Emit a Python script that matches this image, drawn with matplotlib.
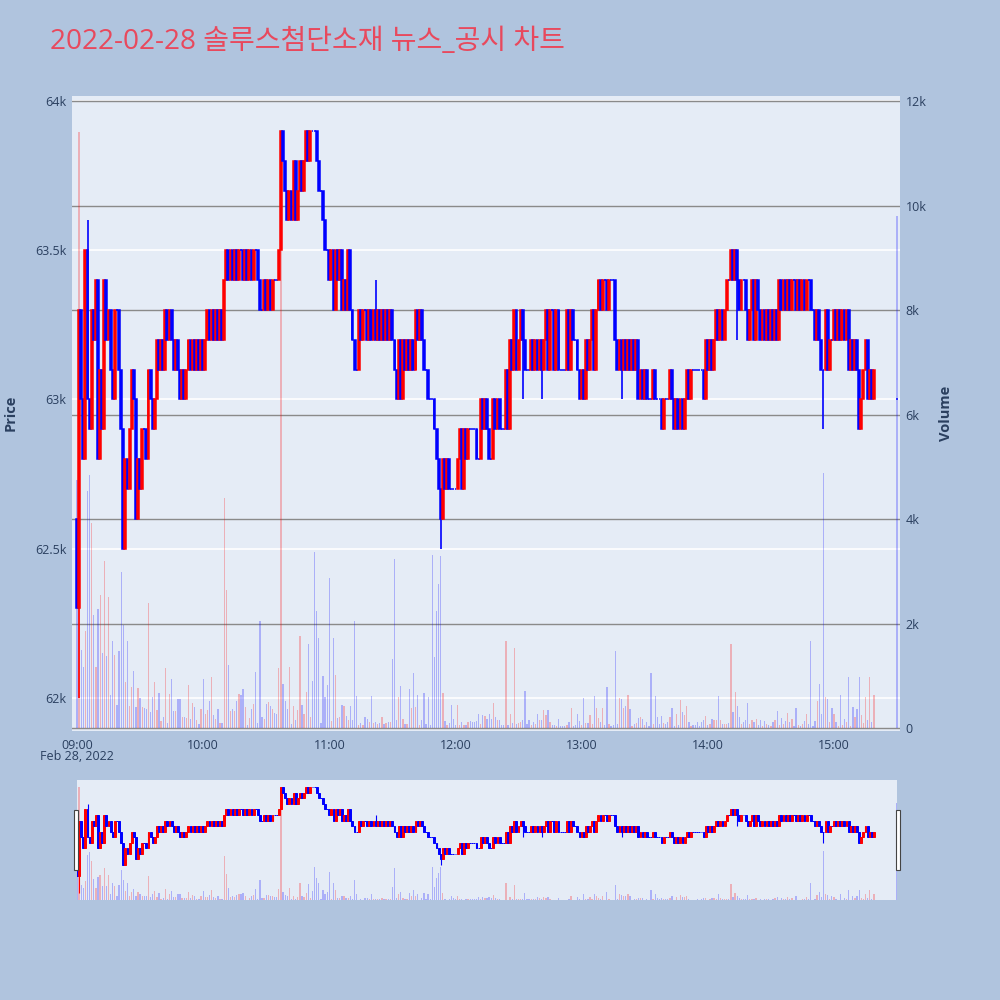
import matplotlib.pyplot as plt
from matplotlib.patches import Rectangle
from matplotlib.transforms import blended_transform_factory

plt.rcParams['font.family'] = ['Open Sans', 'Noto Sans CJK KR', 'DejaVu Sans']

title = "2022-02-28 솔루스첨단소재 뉴스_공시 차트"

# 1분봉 종가 (단위: 100원), 09:00 부터. 마지막 값은 15:30 동시호가
first_open = 626
closes = [
    623, 633, 630, 628, 635, 630, 629, 633, 632, 634,
    628, 631, 629, 634, 632, 633, 631, 630, 633, 633,
    631, 629, 625, 628, 627, 629, 631, 630, 626, 628,
    627, 629, 629, 628, 631, 630, 629, 630, 632, 631,
    632, 631, 633, 632, 633, 632, 631, 632, 631, 630,
    631, 630, 631, 632, 631, 632, 631, 632, 631, 632,
    631, 632, 633, 632, 633, 632,
    633, 632, 633, 632, 634, 635, 634, 635, 634,
    635, 634, 635, 635, 634, 635, 634, 635, 634, 635, 635,
    634, 633, 633, 634, 633, 634, 633, 634, 634, 634, 635,
    639, 638, 637, 636, 637, 636, 638, 636, 637, 638, 637, 638,
    639, 638, 639, 639, 639, 638, 637, 637, 636, 635,
    635, 634, 635, 633, 635, 634, 635, 633, 634, 633, 635,
    633, 632, 631, 631, 633, 632, 633, 633, 632, 633, 632,
    633, 632, 633, 632, 633, 632, 633, 632, 633, 632,
    631, 630, 632, 630, 632, 631, 632, 631, 632, 631,
    633, 632, 633, 632, 631, 631, 630, 630, 630, 629,
    628, 627, 626, 628, 627, 628, 627, 627, 627, 627,
    628, 629, 627, 629, 628, 629, 629, 629, 629, 628,
    628, 630, 629, 630,
    629, 628, 628, 630, 629, 630, 629, 629, 629, 631,
    629, 632, 631, 633, 631, 632, 633, 632, 631, 631,
    631, 632, 631, 632, 631, 632, 631, 632, 633, 631,
    633, 633, 631, 633, 631, 631, 631, 631, 633, 631,
    633, 632, 632, 631, 630, 631, 630, 632, 631, 632,
    633, 631, 633, 634, 633, 634, 634, 633, 634, 634,
    634, 632, 631, 632, 631, 632,
    631, 632, 631, 632, 631, 632, 630, 631, 630, 631,
    630, 630, 630, 631, 630, 630, 630, 629, 630, 630,
    630, 631, 630, 629, 630, 629, 630, 629, 630, 631,
    630, 631, 631, 631, 631, 631, 631, 630, 632, 631,
    632, 631, 632, 633, 632, 633, 632, 633, 634, 634,
    635, 634, 635, 634, 633, 634, 634, 633, 632, 633,
    634, 632, 634, 633, 632,
    633, 632, 633, 632, 633, 632, 633, 632,
    634, 633, 634, 633, 634, 633, 634, 634, 633, 634,
    633, 634, 633, 634, 634, 633, 633, 632, 633, 632,
    631, 631, 633, 631, 632, 632, 633, 632, 633, 632,
    633, 632, 633, 631, 632, 631, 632, 631, 629, 630,
    631, 632, 630, 631, 630, 631,
    630,
]
extra_low = {1: 620, 173: 625, 212: 630, 221: 630, 259: 630, 314: 632, 355: 629}
extra_high = {5: 636, 142: 634}

volumes = [
    4750, 11400, 1500, 1165, 1866, 4540, 4840, 3920, 2165, 1165,
    2280, 2550, 1430, 3190, 1375, 2500, 625, 1670, 1390, 445,
    1480, 2990, 1975, 890, 1670, 420, 780, 1095, 400, 765,
    575, 410, 380, 370, 2395, 305, 600, 880, 340, 675,
    130, 220, 1140, 95, 655, 940, 320, 330, 560, 560,
    220, 210, 200, 830, 165, 480, 395, 145, 85, 355,
    940, 260, 340, 515, 975, 255, 165, 355, 100, 100,
    4410, 2640, 1200, 325, 370, 320, 510, 655, 640, 750,
    400, 50, 200, 355, 465, 1070, 100, 2045, 210, 165,
    460, 500, 420, 370, 285, 275, 1145, 11400, 840, 510,
    355, 1170, 85, 420, 145, 340, 1760, 435, 275, 690,
    1610, 205, 905, 3360, 2235, 1720, 95, 1005, 585, 815,
    2870, 125, 1720, 1020, 190, 205, 435, 415, 230, 155,
    420, 145, 2040, 610, 50, 100, 50, 210, 180, 115,
    610, 100, 115, 80, 100, 220, 80, 100, 115, 115,
    1325, 3235, 160, 590, 795, 180, 75, 75, 740, 380,
    1050, 400, 625, 50, 160, 670, 75, 590, 65, 3320,
    1360, 2240, 2760, 3300, 670, 125, 50, 100, 435, 180,
    65, 435, 65, 115, 50, 65, 115, 125, 115, 115,
    125, 275, 85, 255, 230, 180, 275, 180, 480, 220,
    145, 145, 50, 50, 1675, 50, 260, 95, 1530, 80,
    95, 115, 145, 700, 75, 145, 60, 115, 85, 275,
    160, 145, 350, 240, 350, 115, 50, 50, 30, 165,
    30, 30, 30, 50, 115, 380, 30, 50, 260, 135,
    50, 575, 100, 100, 255, 85, 610, 380, 190, 115,
    380, 50, 780, 85, 40, 50, 1465, 85, 575, 550,
    380, 420, 640, 370, 40, 85, 95, 190, 210, 180,
    50, 115, 30, 1050, 85, 605, 210, 85, 230, 100,
    70, 115, 205, 380, 30, 270, 50, 530, 305, 255,
    415, 115, 30, 50, 50, 115, 30, 115, 155, 230,
    50, 85, 180, 155, 145, 605, 160, 85, 85, 85,
    95, 1610, 305, 690, 415, 210, 85, 115, 145, 480,
    85, 145, 115, 165, 50, 145, 30, 125, 85, 65,
    30, 115, 155, 325, 50, 190, 85, 140, 295, 115,
    180, 30, 380, 50, 30, 85, 125, 275, 85, 1670,
    30, 125, 510, 840, 270, 4890, 600, 550, 115, 380,
    260, 115, 30, 640, 50, 180, 115, 980, 30, 400,
    220, 370, 980, 240, 95, 585, 160, 975, 115, 640,
    9800,
]
auction_minute = 390  # 15:30

time_ticks = [0, 60, 120, 180, 240, 300, 360]
time_labels = ["09:00", "10:00", "11:00", "12:00", "13:00", "14:00", "15:00"]
price_ticks = [62000, 62500, 63000, 63500, 64000]
price_labels = ["62k", "62.5k", "63k", "63.5k", "64k"]
vol_ticks = [0, 2000, 4000, 6000, 8000, 10000, 12000]
vol_labels = ["0", "2k", "4k", "6k", "8k", "10k", "12k"]

# 캔들 데이터 만들기
n = len(closes)
minutes = list(range(n - 1)) + [auction_minute]
opens = [first_open] + closes[:-1]
opens[-1] = closes[-1]
o = [v * 100 for v in opens]
c = [v * 100 for v in closes]
lows = [min(a, b) for a, b in zip(o, c)]
highs = [max(a, b) for a, b in zip(o, c)]
for i, v in extra_low.items():
    lows[i] = v * 100
for i, v in extra_high.items():
    highs[i] = v * 100
up = [b > a for a, b in zip(o, c)]
colors = ["#ff0000" if u else "#0000ff" for u in up]
vcolors = [(1, 0, 0, 0.25) if u else (0, 0, 1, 0.25) for u in up]
bottoms = [min(a, b) for a, b in zip(o, c)]
heights = [abs(b - a) for a, b in zip(o, c)]

txt = "#2a3f5f"
fig = plt.figure(figsize=(10, 10), dpi=100, facecolor="#b0c4de")

# 메인 차트
ax_vol = fig.add_axes([0.072, 0.269, 0.828, 0.635])
ax = ax_vol.twinx()
ax_vol.set_facecolor("#e5ecf6")
for a in (ax, ax_vol):
    for s in a.spines.values():
        s.set_visible(False)

ax_vol.bar(minutes, volumes, width=0.6, color=vcolors, zorder=2)
ax_vol.set_ylim(-57, 12096)
ax_vol.set_yticks(vol_ticks)
ax_vol.set_yticklabels(vol_labels)
ax_vol.yaxis.tick_right()
ax_vol.yaxis.set_label_position("right")
ax_vol.grid(axis="y", color="#8a8a8a", linewidth=1, zorder=1)
ax_vol.set_axisbelow(True)
tr = blended_transform_factory(ax_vol.transAxes, ax.transData)
for p in price_ticks:
    ax_vol.plot([0, 1], [p, p], transform=tr, color="white", linewidth=1.2, zorder=0.5)

ax.vlines(minutes, lows, highs, colors=colors, linewidth=1.2, zorder=3)
ax.bar(minutes, heights, bottom=bottoms, width=0.9, color=colors,
       edgecolor=colors, linewidth=1.1, zorder=4)
ax.set_ylim(61889, 64017)
ax.set_yticks(price_ticks)
ax.set_yticklabels(price_labels)
ax.yaxis.tick_left()
ax.yaxis.set_label_position("left")
ax.set_xlim(-2.38, 391.4)
ax_vol.set_xticks(time_ticks)
ax_vol.set_xticklabels(time_labels)
for a in (ax, ax_vol):
    a.tick_params(length=0, labelsize=9, labelcolor=txt, pad=4)
ax_vol.tick_params(axis="x", pad=6)

fig.text(0.011, 0.587, "Price", rotation=90, ha="center", va="center",
         fontsize=10.5, color=txt, fontweight="bold")
fig.text(0.946, 0.587, "Volume", rotation=90, ha="center", va="center",
         fontsize=10.5, color=txt, fontweight="bold")
fig.text(0.077, 0.243, "Feb 28, 2022", ha="center", va="center", fontsize=9, color=txt)
fig.text(0.05, 0.958, title, ha="left", va="center", fontsize=20.2, color="#e8495d")

# 레인지 슬라이더
sl = fig.add_axes([0.077, 0.1, 0.82, 0.12])
sl_p = sl.twinx()
sl.set_facecolor("#e5ecf6")
for a in (sl, sl_p):
    for s in a.spines.values():
        s.set_visible(False)
    a.set_xticks([])
    a.set_yticks([])
sl.bar(minutes, volumes, width=0.6, color=vcolors)
sl.set_ylim(0, 12096)
sl_p.vlines(minutes, lows, highs, colors=colors, linewidth=0.8)
sl_p.bar(minutes, heights, bottom=bottoms, width=0.9, color=colors,
         edgecolor=colors, linewidth=0.7)
sl_p.set_ylim(61870, 64030)
sl.set_xlim(0, auction_minute)
for xl in (0.0735, 0.8955):
    fig.add_artist(Rectangle((xl, 0.13), 0.0045, 0.06, transform=fig.transFigure,
                             facecolor="white", edgecolor="#444444", linewidth=0.8))

plt.savefig("out.png", dpi=100, facecolor=fig.get_facecolor())
